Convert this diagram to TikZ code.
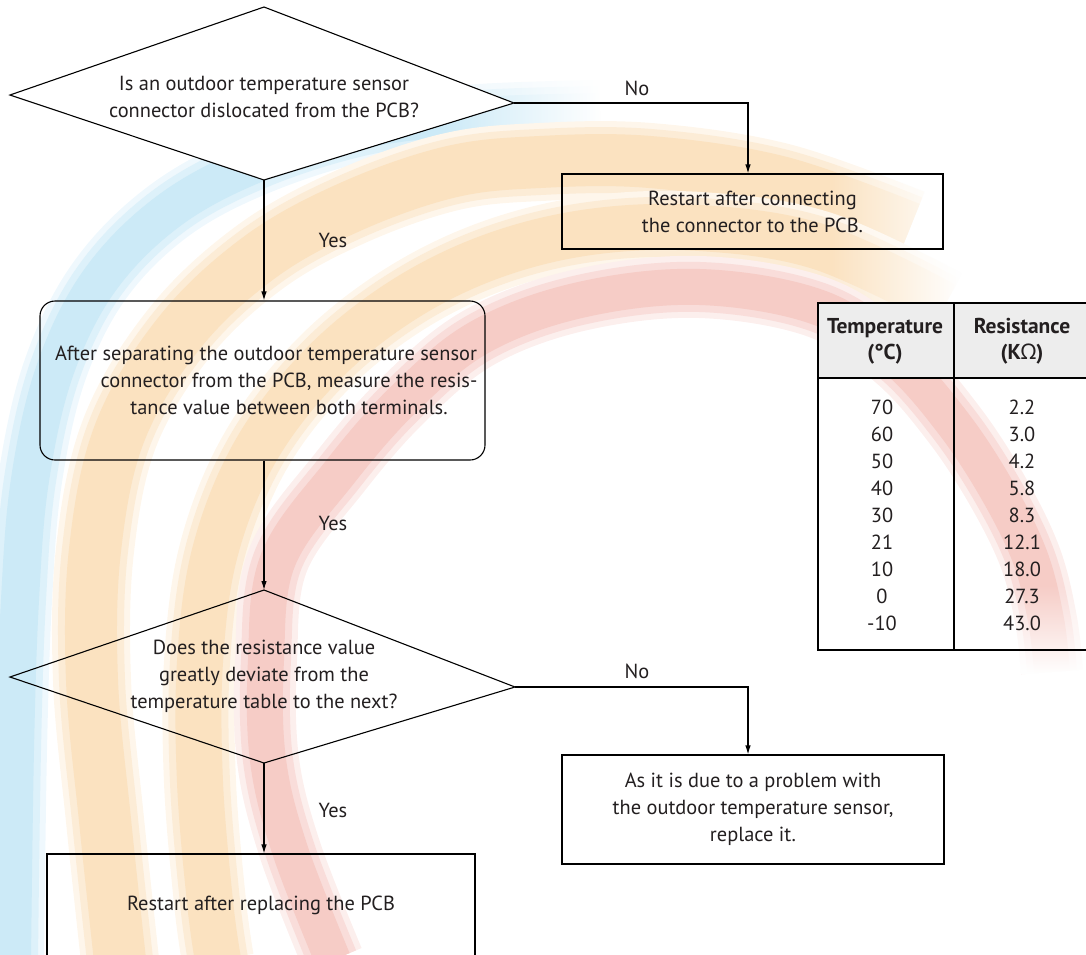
\documentclass[tikz,border=0pt]{standalone}
\usepackage{fontspec}
\setmainfont{PT Sans}
\newfontfamily\omegafont{Noto Sans}
\usetikzlibrary{arrows.meta, fadings}

\definecolor{ink}{RGB}{35,31,32}
\definecolor{hdrgray}{RGB}{237,237,237}
\definecolor{wmcyan}{RGB}{120,200,235}
\definecolor{wmorange}{RGB}{245,180,90}
\definecolor{wmred}{RGB}{232,120,105}

% white veils used to let the band ends die away
\tikzfading[name=veilright, left color=transparent!100, right color=transparent!0]
\tikzfading[name=veildown, top color=transparent!100, bottom color=transparent!0]

% a soft-edged watermark band: colour, core width, coordinates
\newcommand\softband[3]{%
  \draw[#1!12, line width=#2+20pt, line cap=butt, line join=round]
    plot[smooth, tension=0.6] coordinates {#3};
  \draw[#1!25, line width=#2+8pt, line cap=butt, line join=round]
    plot[smooth, tension=0.6] coordinates {#3};
  \draw[#1!38, line width=#2-6pt, line cap=butt, line join=round]
    plot[smooth, tension=0.6] coordinates {#3};
}

\begin{document}
\begin{tikzpicture}[x=1pt, y=-1pt,
  txt/.style={font=\fontsize{20.4}{27}\selectfont, text=ink, align=center, inner sep=0pt},
  lbl/.style={font=\fontsize{20.4}{23}\selectfont, text=ink, inner sep=0pt},
  hdr/.style={font=\fontsize{21.5}{26}\selectfont\bfseries, text=ink, align=center, inner sep=0pt},
  cell/.style={font=\fontsize{20.4}{23}\selectfont, text=ink, inner sep=0pt},
  edge/.style={draw=black, line width=1.1pt},
  procbox/.style={txt, draw=black, line width=1.1pt},
  arrow/.style={edge, -{Latex[length=9pt, width=5.5pt]}}]

\useasboundingbox (0,0) rectangle (1086,954);

% ---- background watermark arcs ----
\begin{scope}
  \clip (0,0) rectangle (1086,954);
  \softband{wmcyan}{44pt}{(600,112) (480,116) (370,128) (260,162) (170,210) (100,280) (55,370) (30,480) (20,600) (15,750) (12,960)}
  \fill[white, path fading=veilright] (440,70) rectangle (602,160);
  \softband{wmorange}{58pt}{(910,228) (780,182) (650,162) (540,162) (450,172) (350,207) (260,257) (180,332) (120,432) (95,550) (92,680) (105,820) (120,960)}
  \softband{wmorange}{52pt}{(945,305) (820,247) (700,228) (590,232) (490,257) (400,302) (320,367) (255,452) (215,552) (200,662) (200,782) (210,902) (218,960)}
  \fill[white, path fading=veilright] (830,140) rectangle (962,345);
  \softband{wmred}{42pt}{(1052,672) (1046,620) (1030,557) (997,490) (953,423) (897,360) (820,308) (700,287) (580,300) (480,337) (405,398) (340,472) (278,560) (266,660) (268,760) (290,850) (333,960)}
  \fill[white, path fading=veildown] (995,585) rectangle (1086,674);
\end{scope}

% ---- first decision ----
\coordinate (d1t) at (264,7);
\coordinate (d1r) at (514,103);
\coordinate (d1b) at (264,180);
\coordinate (d1l) at (10,95);
\draw[edge, fill=white, line join=miter] (d1t) -- (d1r) -- (d1b) -- (d1l) -- cycle;
\node[txt] (q1) at (264,97) {Is an outdoor temperature sensor\\connector dislocated from the PCB?};

\node[procbox, minimum width=381pt, minimum height=75pt] (b1) at (752.5,211.5)
  {Restart after connecting\\the connector to the PCB.};

\node[procbox, rounded corners=15pt, minimum width=445pt, minimum height=159pt] (r1) at (262.5,380.5) {};
\node[txt] (m1) at (289,380) {After separating the outdoor temperature sensor\hspace*{46pt}\\connector from the PCB, measure the resis-\\tance value between both terminals.};

% ---- second decision ----
\coordinate (d2t) at (264,590);
\coordinate (d2r) at (515,687);
\coordinate (d2b) at (264,763);
\coordinate (d2l) at (10,677);
\draw[edge, line join=miter] (d2t) -- (d2r) -- (d2b) -- (d2l) -- cycle;
\node[txt] (q2) at (264,676) {Does the resistance value\\greatly deviate from the\\temperature table to the next?};

\node[procbox, minimum width=382pt, minimum height=109pt] (b2) at (753,809.5)
  {As it is due to a problem with\\the outdoor temperature sensor,\\replace it.};

\node[procbox, minimum width=428pt, minimum height=102pt] (b3) at (261,905)
  {Restart after replacing the PCB};

% ---- connectors ----
\draw[arrow] (d1r) -- ++(234,0) coordinate (c1) -- (c1 |- b1.north);
\draw[arrow] (d1b) -- (d1b |- r1.north);
\draw[arrow] (d1b |- r1.south) -- (d2t);
\draw[arrow] (d2r) -- ++(233,0) coordinate (c2) -- (c2 |- b2.north);
\draw[arrow] (d2b) -- (d2b |- b3.north);

\node[lbl] (no1) at (637,88) {No};
\node[lbl] (no2) at (637,671) {No};
\node[lbl] (yes1) at (333,240) {Yes};
\node[lbl] (yes2) at (333,523) {Yes};
\node[lbl] (yes3) at (333,810) {Yes};

% ---- resistance table ----
\fill[hdrgray] (818,303) rectangle (1095,378);
\draw[edge] (818,303) rectangle (1095,650);
\draw[edge] (818,378) -- (1095,378);
\draw[edge] (954,303) -- (954,650);
\node[hdr] (th1) at (885,341) {Temperature\\(°C)};
\node[hdr] (th2) at (1022,341) {Resistance\\(K{\omegafont Ω})};
\foreach \t/\r [count=\i from 0] in {70/2.2, 60/3.0, 50/4.2, 40/5.8, 30/8.3, 21/12.1, 10/18.0, 0/27.3, -10/43.0} {
  \node[cell] (t\i) at (882, 407+27.1*\i) {\t};
  \node[cell] (r\i) at (1022, 407+27.1*\i) {\r};
}
\end{tikzpicture}
\end{document}
